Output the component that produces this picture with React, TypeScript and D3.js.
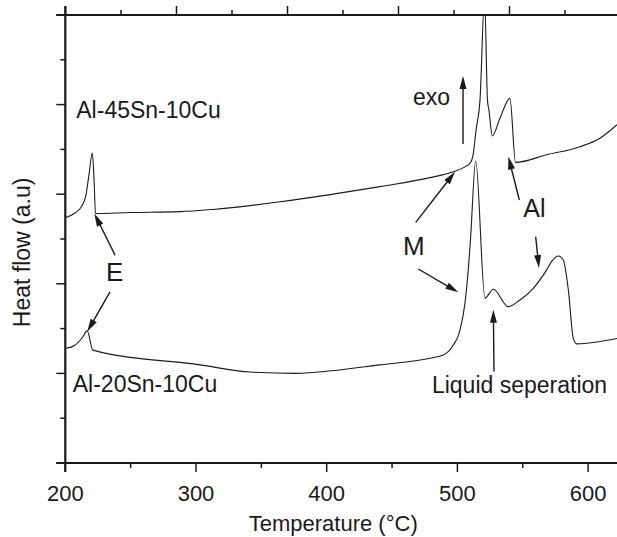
import React from "react";
import * as d3 from "d3";

const W = 617;
const H = 537;

// DSC trace of Al-45Sn-10Cu (temperature in °C, heat flow in arbitrary units)
const upperTemp = [200.5, 207.4, 212.8, 215.8, 218.1, 220.7, 222.0, 223.1, 249.5, 287.8, 313.0, 364.3, 402.5, 440.8, 479.1, 496.9, 505.8, 509.7, 512.2, 514.3, 517.3, 520.8, 523.0, 524.1, 526.7, 532.6, 540.2, 544.5, 568.3, 593.8, 609.1, 622.1];
const upperFlow = [5.48, 5.58, 5.74, 5.98, 6.43, 6.92, 6.32, 5.57, 5.59, 5.61, 5.66, 5.83, 5.99, 6.17, 6.37, 6.50, 6.61, 6.69, 6.91, 7.43, 8.10, 10.4, 8.10, 7.88, 7.30, 7.70, 8.14, 6.71, 6.88, 7.06, 7.25, 7.55];

// DSC trace of Al-20Sn-10Cu
const lowerTemp = [200.5, 207.4, 212.8, 216.8, 221.0, 303.1, 341.3, 377.0, 389.5, 440.8, 479.1, 489.2, 495.9, 502.0, 505.8, 508.3, 510.0, 514.0, 521.1, 527.5, 538.9, 547.9, 558.1, 568.3, 572.4, 577.2, 581.0, 584.9, 588.7, 591.3, 622.1];
const lowerFlow = [2.56, 2.63, 2.79, 2.95, 2.52, 2.19, 2.03, 2.00, 2.02, 2.19, 2.34, 2.41, 2.59, 2.97, 3.57, 4.31, 4.98, 6.74, 3.68, 3.88, 3.49, 3.64, 3.90, 4.31, 4.51, 4.62, 4.53, 3.86, 2.78, 2.66, 2.78];

const xTicks = [200, 300, 400, 500, 600];
const xMinorTicks = [250, 350, 450, 550];
const yTicks = [0, 1, 2, 3, 4, 5, 6, 7, 8, 9, 10];
const topTicks = [0, 0.5, 1, 1.5, 2, 2.5, 3, 3.5, 4, 4.5];

// Annotation arrows: [tailTemp, tailFlow, tipTemp, tipFlow]
const arrows: [number, number, number, number][] = [
  [504.3, 7.12, 504.3, 8.64],
  [238.1, 4.64, 222.2, 5.57],
  [234.2, 3.82, 216.8, 2.93],
  [468.1, 5.37, 498.2, 6.5],
  [470.1, 4.33, 500.7, 3.81],
  [547.4, 5.87, 539.0, 6.84],
  [559.9, 5.05, 562.4, 4.35],
  [528.0, 2.04, 527.5, 3.42],
];

// Text annotations: [text, temp, flow, fontSize]
const labels: [string, number, number, number][] = [
  ["Al-45Sn-10Cu", 208.4, 7.70, 23],
  ["Al-20Sn-10Cu", 205.7, 1.59, 23],
  ["exo", 466.0, 8.0, 23],
  ["E", 231.2, 4.06, 26],
  ["M", 458.4, 4.64, 26],
  ["Al", 550.4, 5.5, 25],
  ["Liquid seperation", 480.5, 1.56, 23],
];

export default function App() {
  const x = d3.scaleLinear().domain([200, 600]).range([65.3, 588.1]);
  const y = d3.scaleLinear().domain([0, 10]).range([463, 15]);
  const xTop = d3.scaleLinear().domain([0, 1]).range([65.5, 176.5]);

  const line = d3
    .line<[number, number]>()
    .x((d) => x(d[0]))
    .y((d) => y(d[1]))
    .curve(d3.curveMonotoneX);

  const upper = line(upperTemp.map((t, i) => [t, upperFlow[i]]));
  const lower = line(lowerTemp.map((t, i) => [t, lowerFlow[i]]));

  const x0 = x(200);
  const y0 = y(0);
  const yTop = y(10);
  const font = "'Liberation Sans', Arial, Helvetica, sans-serif";
  const ink = "#1a1a1a";

  const arrowEls = arrows.map(([t0, v0, t1, v1], i) => {
    const ax = x(t0), ay = y(v0), bx = x(t1), by = y(v1);
    const dx = bx - ax, dy = by - ay;
    const len = Math.hypot(dx, dy);
    const ux = dx / len, uy = dy / len;
    const headL = 13, headW = 3.5;
    const hx = bx - ux * headL, hy = by - uy * headL;
    const p1 = [hx - uy * headW, hy + ux * headW];
    const p2 = [hx + uy * headW, hy - ux * headW];
    return (
      <g key={i}>
        <line x1={ax} y1={ay} x2={hx + ux * 2} y2={hy + uy * 2} stroke={ink} strokeWidth={1.4} />
        <polygon points={`${bx},${by} ${p1[0]},${p1[1]} ${p2[0]},${p2[1]}`} fill={ink} />
      </g>
    );
  });

  return (
    <svg
      width={W}
      height={H}
      viewBox={`0 0 ${W} ${H}`}
      style={{ position: "absolute", left: 0, top: 0, background: "#fff" }}
      fontFamily={font}
    >
      <defs>
        <clipPath id="plot">
          <rect x={x0} y={yTop} width={W - x0} height={y0 - yTop} />
        </clipPath>
      </defs>
      <rect width={W} height={H} fill="#fff" />

      <g clipPath="url(#plot)" fill="none" stroke={ink} strokeWidth={1.1}>
        <path d={upper ?? ""} />
        <path d={lower ?? ""} />
      </g>

      {/* frame: bottom, top and left axis lines */}
      <g stroke={ink}>
        <line x1={x0 - 9} x2={W} y1={y0} y2={y0} strokeWidth={2} />
        <line x1={x0 - 9} x2={W} y1={yTop} y2={yTop} strokeWidth={2} />
        <line x1={x0} x2={x0} y1={yTop - 9} y2={y0 + 9} strokeWidth={2.2} />
      </g>

      {/* bottom axis ticks */}
      <g stroke={ink} strokeWidth={1.5}>
        {xTicks.map((t) => (
          <line key={`xt${t}`} x1={x(t)} x2={x(t)} y1={y0} y2={y0 + 9} />
        ))}
        {xMinorTicks.map((t) => (
          <line key={`xm${t}`} x1={x(t)} x2={x(t)} y1={y0} y2={y0 + 5} />
        ))}
        {topTicks.map((t) => (
          <line
            key={`tt${t}`}
            x1={xTop(t)}
            x2={xTop(t)}
            y1={yTop}
            y2={yTop - (Number.isInteger(t) ? 9 : 5)}
          />
        ))}
        {yTicks.map((v) => (
          <line
            key={`yt${v}`}
            x1={x0}
            x2={x0 - (v % 2 === 0 ? 9 : 5)}
            y1={y(v)}
            y2={y(v)}
          />
        ))}
      </g>

      <g fontSize={22} fill={ink} textAnchor="middle">
        {xTicks.map((t) => (
          <text key={`xl${t}`} x={x(t)} y={y0 + 38}>
            {t}
          </text>
        ))}
      </g>

      <text x={x(405)} y={531} fontSize={22} fill={ink} textAnchor="middle">
        Temperature (°C)
      </text>
      <text
        transform={`translate(29.5, ${y(4.7)}) rotate(-90)`}
        fontSize={23}
        fill={ink}
        textAnchor="middle"
      >
        Heat flow (a.u)
      </text>

      {labels.map(([s, t, v, fs]) => (
        <text key={s} x={x(t)} y={y(v)} fontSize={fs} fill={ink}>
          {s}
        </text>
      ))}

      {arrowEls}
    </svg>
  );
}
